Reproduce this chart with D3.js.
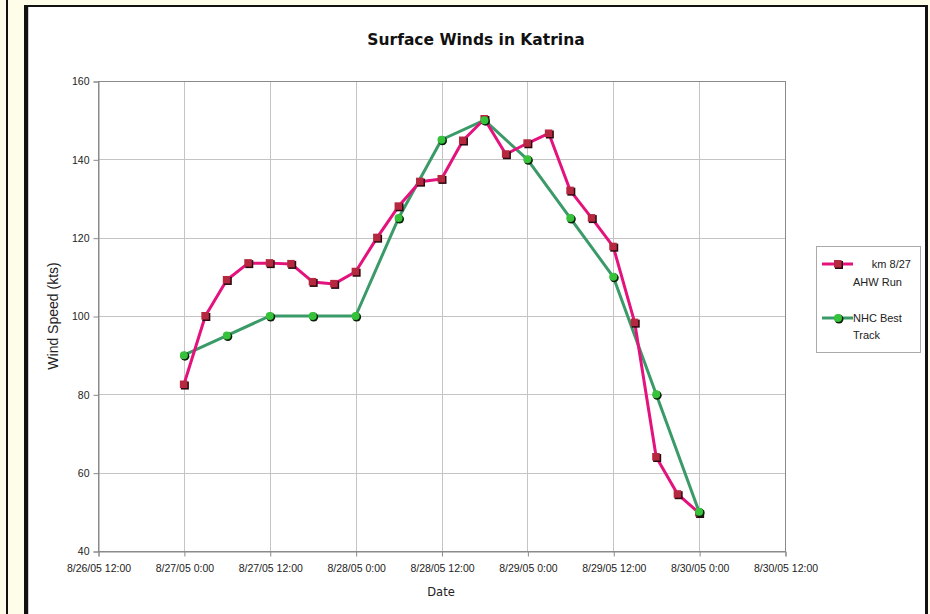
<!DOCTYPE html>
<html>
<head>
<meta charset="utf-8">
<script src="https://cdn.jsdelivr.net/npm/d3@7"></script>
<style>
	html, body { margin: 0; padding: 0; background: #fefde9; }
	svg { display: block; }
</style>
</head>
<body>
<div id="chart"></div>
<script>
// AHW model run, every 3 hours from 8/27 0:00 UTC
const ahwStart = '2005-08-27T00:00';
const ahwStepHours = 3;
const ahwValues = [
	82.5, 100, 109.2, 113.5, 113.5, 113.3, 108.7, 108.2, 111.3, 120,
	128, 134.3, 135, 144.8, 150.3, 141.3, 144.1, 146.6, 132, 125,
	117.7, 98.3, 64, 54.5, 49.7,
];

// NHC best track
const nhcTimes = [
	'2005-08-27T00:00', '2005-08-27T06:00', '2005-08-27T12:00',
	'2005-08-27T18:00', '2005-08-28T00:00', '2005-08-28T06:00',
	'2005-08-28T12:00', '2005-08-28T18:00', '2005-08-29T00:00',
	'2005-08-29T06:00', '2005-08-29T12:00', '2005-08-29T18:00',
	'2005-08-30T00:00',
];
const nhcValues = [90, 95, 100, 100, 100, 125, 145, 150, 140, 125, 110, 80, 50];

const yTicks = [40, 60, 80, 100, 120, 140, 160];
const xDomain = ['2005-08-26T12:00', '2005-08-30T12:00'];

const seriesNames = [['km 8/27', 'AHW Run'], ['NHC Best', 'Track']];

const W = 930;
const H = 614;
const parse = d3.utcParse('%Y-%m-%dT%H:%M');

const ahwData = ahwValues.map((v, i) => ({
	t: d3.utcHour.offset(parse(ahwStart), i * ahwStepHours),
	v: v,
}));
const nhcData = nhcTimes.map((t, i) => ({t: parse(t), v: nhcValues[i]}));

const svg = d3
	.select('#chart')
	.append('svg')
	.attr('width', W)
	.attr('height', H);

// page frame (slide edges)
svg.append('rect').attr('x', 0).attr('y', 0).attr('width', W).attr('height', H).attr('fill', '#fefde9');
svg.append('rect').attr('x', 6).attr('y', 0).attr('width', 2).attr('height', H).attr('fill', '#111');
svg.append('rect').attr('x', 24).attr('y', 5).attr('width', 904).attr('height', H).attr('fill', '#111');
svg.append('rect').attr('x', 28).attr('y', 7).attr('width', 897).attr('height', H).attr('fill', '#fff');
svg.append('line').attr('x1', 28.5).attr('x2', 28.5).attr('y1', 7).attr('y2', H).attr('stroke', '#ccc');

const margin = {left: 98, right: 785, top: 81, bottom: 551};

const x = d3.scaleUtc().domain(xDomain.map(parse)).range([margin.left, margin.right]);
const y = d3.scaleLinear().domain([40, 160]).range([margin.bottom, margin.top]);

const xTicks = d3.utcHour.every(12).range(x.domain()[0], d3.utcHour.offset(x.domain()[1], 1));
const fmt = d3.utcFormat('%-m/%d/%y %-H:%M');

// grid
const grid = svg.append('g').attr('stroke', '#c4c4c4').attr('stroke-width', 1);
grid.selectAll('.gx')
	.data(xTicks)
	.enter()
	.append('line')
	.attr('x1', d => Math.round(x(d)) + 0.5)
	.attr('x2', d => Math.round(x(d)) + 0.5)
	.attr('y1', margin.top)
	.attr('y2', margin.bottom);
grid.selectAll('.gy')
	.data(yTicks)
	.enter()
	.append('line')
	.attr('x1', margin.left)
	.attr('x2', margin.right)
	.attr('y1', d => Math.round(y(d)) + 0.5)
	.attr('y2', d => Math.round(y(d)) + 0.5);

svg.append('rect')
	.attr('x', margin.left + 0.5)
	.attr('y', margin.top + 0.5)
	.attr('width', margin.right - margin.left)
	.attr('height', margin.bottom - margin.top)
	.attr('fill', 'none')
	.attr('stroke', '#8a8a8a');

// axes
const xAxis = svg.append('g')
	.attr('transform', `translate(0.5,${margin.bottom + 0.5})`)
	.call(d3.axisBottom(x).tickValues(xTicks).tickFormat(fmt).tickSize(5).tickPadding(8));
const yAxis = svg.append('g')
	.attr('transform', `translate(${margin.left + 0.5},0.5)`)
	.call(d3.axisLeft(y).tickValues(yTicks).tickSize(5).tickPadding(4));

[xAxis, yAxis].forEach(a => {
	a.select('.domain').attr('stroke', '#8a8a8a');
	a.selectAll('.tick line').attr('stroke', '#8a8a8a');
	a.selectAll('text')
		.attr('fill', '#222')
		.style('font-family', '"Liberation Sans", Arial, sans-serif')
		.style('font-size', '10.5px');
});
xAxis.selectAll('text').attr('dy', '0.71em');

// titles
svg.append('text')
	.attr('x', 476)
	.attr('y', 45)
	.attr('text-anchor', 'middle')
	.style('font-family', '"DejaVu Sans", Verdana, sans-serif')
	.style('font-weight', 'bold')
	.style('font-size', '15.5px')
	.attr('fill', '#111')
	.text('Surface Winds in Katrina');

svg.append('text')
	.attr('x', 441)
	.attr('y', 596)
	.attr('text-anchor', 'middle')
	.style('font-family', '"DejaVu Sans", Verdana, sans-serif')
	.style('font-size', '11.5px')
	.attr('fill', '#222')
	.text('Date');

svg.append('text')
	.attr('transform', 'translate(58,316) rotate(-90)')
	.attr('text-anchor', 'middle')
	.style('font-family', '"Liberation Sans", Arial, sans-serif')
	.style('font-size', '14px')
	.attr('fill', '#222')
	.text('Wind Speed (kts)');

// series
const pink = '#e4127c';
const green = '#3a9a68';
const line = d3.line().x(d => x(d.t)).y(d => y(d.v));

svg.append('path')
	.datum(nhcData)
	.attr('d', line)
	.attr('fill', 'none')
	.attr('stroke', green)
	.attr('stroke-width', 3)
	.attr('stroke-linejoin', 'round');

svg.append('path')
	.datum(ahwData)
	.attr('d', line)
	.attr('fill', 'none')
	.attr('stroke', pink)
	.attr('stroke-width', 3)
	.attr('stroke-linejoin', 'round');

function squares(g, data, cx, cy) {
	g.selectAll('.sh')
		.data(data)
		.enter()
		.append('rect')
		.attr('x', d => cx(d) - 3)
		.attr('y', d => cy(d) - 3)
		.attr('width', 8)
		.attr('height', 8)
		.attr('fill', '#2a0a10');
	g.selectAll('.sq')
		.data(data)
		.enter()
		.append('rect')
		.attr('x', d => cx(d) - 4)
		.attr('y', d => cy(d) - 4)
		.attr('width', 7.5)
		.attr('height', 7.5)
		.attr('fill', '#b5283f');
}

function circles(g, data, cx, cy) {
	g.selectAll('.sh')
		.data(data)
		.enter()
		.append('circle')
		.attr('cx', d => cx(d) + 1)
		.attr('cy', d => cy(d) + 1)
		.attr('r', 4.5)
		.attr('fill', '#0a200a');
	g.selectAll('.ci')
		.data(data)
		.enter()
		.append('circle')
		.attr('cx', d => cx(d))
		.attr('cy', d => cy(d))
		.attr('r', 4)
		.attr('fill', '#36c23a');
}

squares(svg.append('g'), ahwData, d => x(d.t), d => y(d.v));
circles(svg.append('g'), nhcData, d => x(d.t), d => y(d.v));

// legend
const lg = svg.append('g');
lg.append('rect')
	.attr('x', 816.5)
	.attr('y', 246.5)
	.attr('width', 104)
	.attr('height', 106)
	.attr('fill', '#fff')
	.attr('stroke', '#aaa');

const legendRows = [
	{color: pink, y: 264, kind: 'sq', names: seriesNames[0]},
	{color: green, y: 318, kind: 'ci', names: seriesNames[1]},
];
legendRows.forEach(r => {
	lg.append('line')
		.attr('x1', 822)
		.attr('x2', 853)
		.attr('y1', r.y)
		.attr('y2', r.y)
		.attr('stroke', r.color)
		.attr('stroke-width', 3);
	const mg = lg.append('g');
	if (r.kind === 'sq') {
		squares(mg, [0], () => 838, () => r.y);
	} else {
		circles(mg, [0], () => 838, () => r.y);
	}
});

const legendFont = '"Liberation Sans", Arial, sans-serif';
lg.append('text').attr('x', 911).attr('y', 268).attr('text-anchor', 'end')
	.style('font-family', legendFont).style('font-size', '11px').attr('fill', '#222')
	.text(seriesNames[0][0]);
lg.append('text').attr('x', 853).attr('y', 286)
	.style('font-family', legendFont).style('font-size', '11px').attr('fill', '#222')
	.text(seriesNames[0][1]);
lg.append('text').attr('x', 853).attr('y', 322)
	.style('font-family', legendFont).style('font-size', '11px').attr('fill', '#222')
	.text(seriesNames[1][0]);
lg.append('text').attr('x', 853).attr('y', 339)
	.style('font-family', legendFont).style('font-size', '11px').attr('fill', '#222')
	.text(seriesNames[1][1]);
</script>
</body>
</html>
